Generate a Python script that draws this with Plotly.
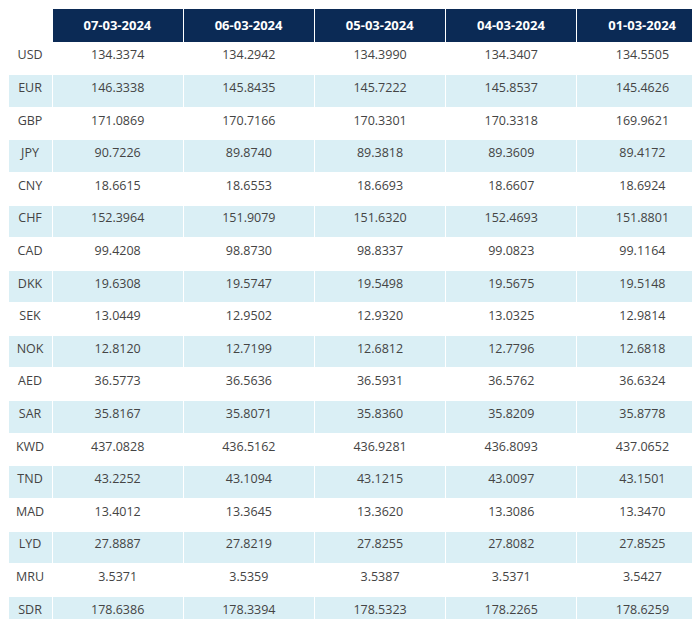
import plotly.graph_objects as go

dates = ["07-03-2024", "06-03-2024", "05-03-2024", "04-03-2024", "01-03-2024"]
currencies = ["USD","EUR","GBP","JPY","CNY","CHF","CAD","DKK","SEK","NOK","AED","SAR","KWD","TND","MAD","LYD","MRU","SDR"]
d0703 = ["134.3374","146.3338","171.0869","90.7226","18.6615","152.3964","99.4208","19.6308","13.0449","12.8120","36.5773","35.8167","437.0828","43.2252","13.4012","27.8887","3.5371","178.6386"]
d0603 = ["134.2942","145.8435","170.7166","89.8740","18.6553","151.9079","98.8730","19.5747","12.9502","12.7199","36.5636","35.8071","436.5162","43.1094","13.3645","27.8219","3.5359","178.3394"]
d0503 = ["134.3990","145.7222","170.3301","89.3818","18.6693","151.6320","98.8337","19.5498","12.9320","12.6812","36.5931","35.8360","436.9281","43.1215","13.3620","27.8255","3.5387","178.5323"]
d0403 = ["134.3407","145.8537","170.3318","89.3609","18.6607","152.4693","99.0823","19.5675","13.0325","12.7796","36.5762","35.8209","436.8093","43.0097","13.3086","27.8082","3.5371","178.2265"]
d0103 = ["134.5505","145.4626","169.9621","89.4172","18.6924","151.8801","99.1164","19.5148","12.9814","12.6818","36.6324","35.8778","437.0652","43.1501","13.3470","27.8525","3.5427","178.6259"]

row_colors = ["#ffffff" if i % 2 == 0 else "#daeff5" for i in range(len(currencies))]

fig = go.Figure(go.Table(
    domain=dict(x=[0, 1], y=[0, 1]),
    columnwidth=[44, 131, 131, 131, 131, 131],
    header=dict(values=[""] + ["<b>%s</b>" % d for d in dates],
                fill_color=["#ffffff"] + ["#0b2a55"] * 5,
                font=dict(color="white", size=13, family="Open Sans"),
                align="center", height=32, line=dict(color="white", width=1)),
    cells=dict(values=[currencies, d0703, d0603, d0503, d0403, d0103],
               fill_color=[row_colors]*6,
               font=dict(color="#444444", size=12.5, family="Open Sans"),
               align="center", height=32.6, line=dict(color="white", width=1)),
))
fig.update_layout(width=700, height=619, margin=dict(l=0, r=0, t=0, b=0),
                  paper_bgcolor="white")
fig.write_html("out.html")
